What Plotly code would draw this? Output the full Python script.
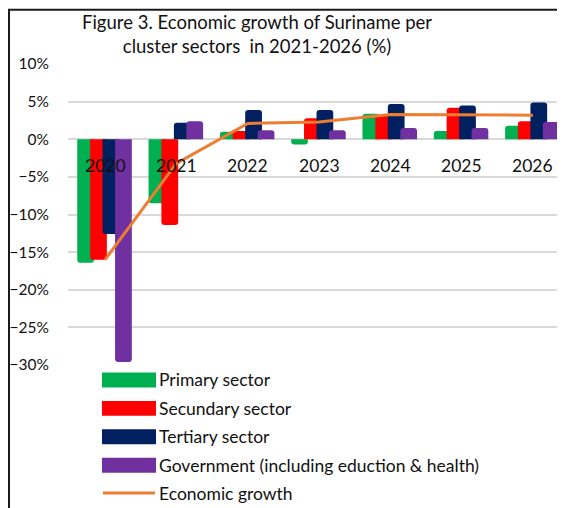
import plotly.graph_objects as go

# data
years = ['2020', '2021', '2022', '2023', '2024', '2025', '2026']
primary = [-16.4, -8.5, 1.0, -0.7, 3.4, 1.1, 1.8]
secondary = [-16.0, -11.4, 1.1, 2.8, 3.2, 4.2, 2.4]
tertiary = [-12.6, 2.2, 3.9, 3.9, 4.7, 4.5, 4.9]
government = [-29.6, 2.4, 1.2, 1.2, 1.5, 1.5, 2.3]
growth = [-16.0, -3.2, 2.1, 2.3, 3.3, 3.3, 3.2]

series_names = ['Primary sector', 'Secundary sector', 'Tertiary sector',
                'Government (including eduction & health)']
line_name = 'Economic growth'
colors = ['#00B050', '#FF0000', '#002060', '#7030A0']
line_color = '#ED7D31'
title_text = 'Figure 3. Economic growth of Suriname per<br>cluster sectors  in 2021-2026 (%)'

FONT = 'Lato'
# page body has an 8px margin, so the figure is a bit smaller than the window
PAD = 8
W, H = 565 - PAD, 508 - PAD
L, R, T, B = 68 - PAD, 0, 63.5 - PAD, 508 - 365.5
PW, PH = W - L - R, H - T - B


def px_x(px):
    # window pixel -> paper fraction
    return (px - PAD - L) / PW


def px_y(py):
    return (H - B - (py - PAD)) / PH


fig = go.Figure()

offsets = [-0.39, -0.21, -0.035, 0.14]
for name, vals, col, off in zip(series_names, [primary, secondary, tertiary, government], colors, offsets):
    fig.add_trace(go.Bar(
        x=years, y=vals, name=name,
        marker=dict(color=col, line=dict(width=0)),
        offset=off, width=0.235,
        showlegend=False,
    ))

fig.add_trace(go.Scatter(
    x=years, y=growth, name=line_name, mode='lines',
    line=dict(color=line_color, width=3),
    showlegend=False,
))

# category labels sitting under the zero line, like Excel does
annotations = []
for i, yr in enumerate(years):
    annotations.append(dict(
        x=i, y=0, xref='x', yref='y', text=yr, showarrow=False,
        yanchor='middle', yshift=-26,
        font=dict(family=FONT, size=17.5, color='#111'),
    ))

# title as an annotation so both lines stay inside the frame
annotations.append(dict(
    x=px_x(257), y=px_y(8), xref='paper', yref='paper', text=title_text,
    showarrow=False, xanchor='center', yanchor='top', align='center',
    font=dict(family=FONT, size=18.5, color='#111'),
))

# hand built legend with wide swatches
shapes = []
row_y = [380.5, 409, 437.5, 466, 494]
for name, col, ry in zip(series_names, colors, row_y):
    shapes.append(dict(
        type='rect', xref='paper', yref='paper',
        x0=px_x(102), x1=px_x(156), y0=px_y(ry - 7.5), y1=px_y(ry + 7.5),
        fillcolor=col, line=dict(width=0),
    ))
    annotations.append(dict(
        x=px_x(157), y=px_y(ry), xref='paper', yref='paper', text=name,
        showarrow=False, xanchor='left', yanchor='middle',
        font=dict(family=FONT, size=17.5, color='#111'),
    ))
shapes.append(dict(
    type='line', xref='paper', yref='paper',
    x0=px_x(103), x1=px_x(155), y0=px_y(row_y[4]), y1=px_y(row_y[4]),
    line=dict(color=line_color, width=3),
))
annotations.append(dict(
    x=px_x(157), y=px_y(row_y[4]), xref='paper', yref='paper', text=line_name,
    showarrow=False, xanchor='left', yanchor='middle',
    font=dict(family=FONT, size=17.5, color='#111'),
))

# outer frame (left and top edges are visible)
shapes.append(dict(type='line', xref='paper', yref='paper',
                   x0=px_x(9), x1=px_x(9), y0=px_y(520), y1=px_y(8.5),
                   line=dict(color='#1a1a1a', width=2)))
shapes.append(dict(type='line', xref='paper', yref='paper',
                   x0=px_x(8), x1=px_x(570), y0=px_y(9), y1=px_y(9),
                   line=dict(color='#1a1a1a', width=2)))

fig.update_layout(
    width=W, height=H,
    margin=dict(l=L, r=R, t=T, b=B),
    template='plotly_white',
    paper_bgcolor='white', plot_bgcolor='white',
    barmode='overlay', barcornerradius=3,
    xaxis=dict(
        type='category', range=[-0.52, 6.45], showticklabels=False, showgrid=False,
        zeroline=False, showline=False, fixedrange=True,
    ),
    yaxis=dict(
        range=[-30, 10], dtick=5, ticksuffix='%',
        showgrid=True, gridcolor='#D9D9D9', gridwidth=1.5,
        zeroline=True, zerolinecolor='#D9D9D9', zerolinewidth=1.5,
        showline=False, ticklabelstandoff=18,
        tickfont=dict(family=FONT, size=15.5, color='#111'),
    ),
    shapes=shapes,
    annotations=annotations,
    showlegend=False,
)

fig.write_html("out.html")
